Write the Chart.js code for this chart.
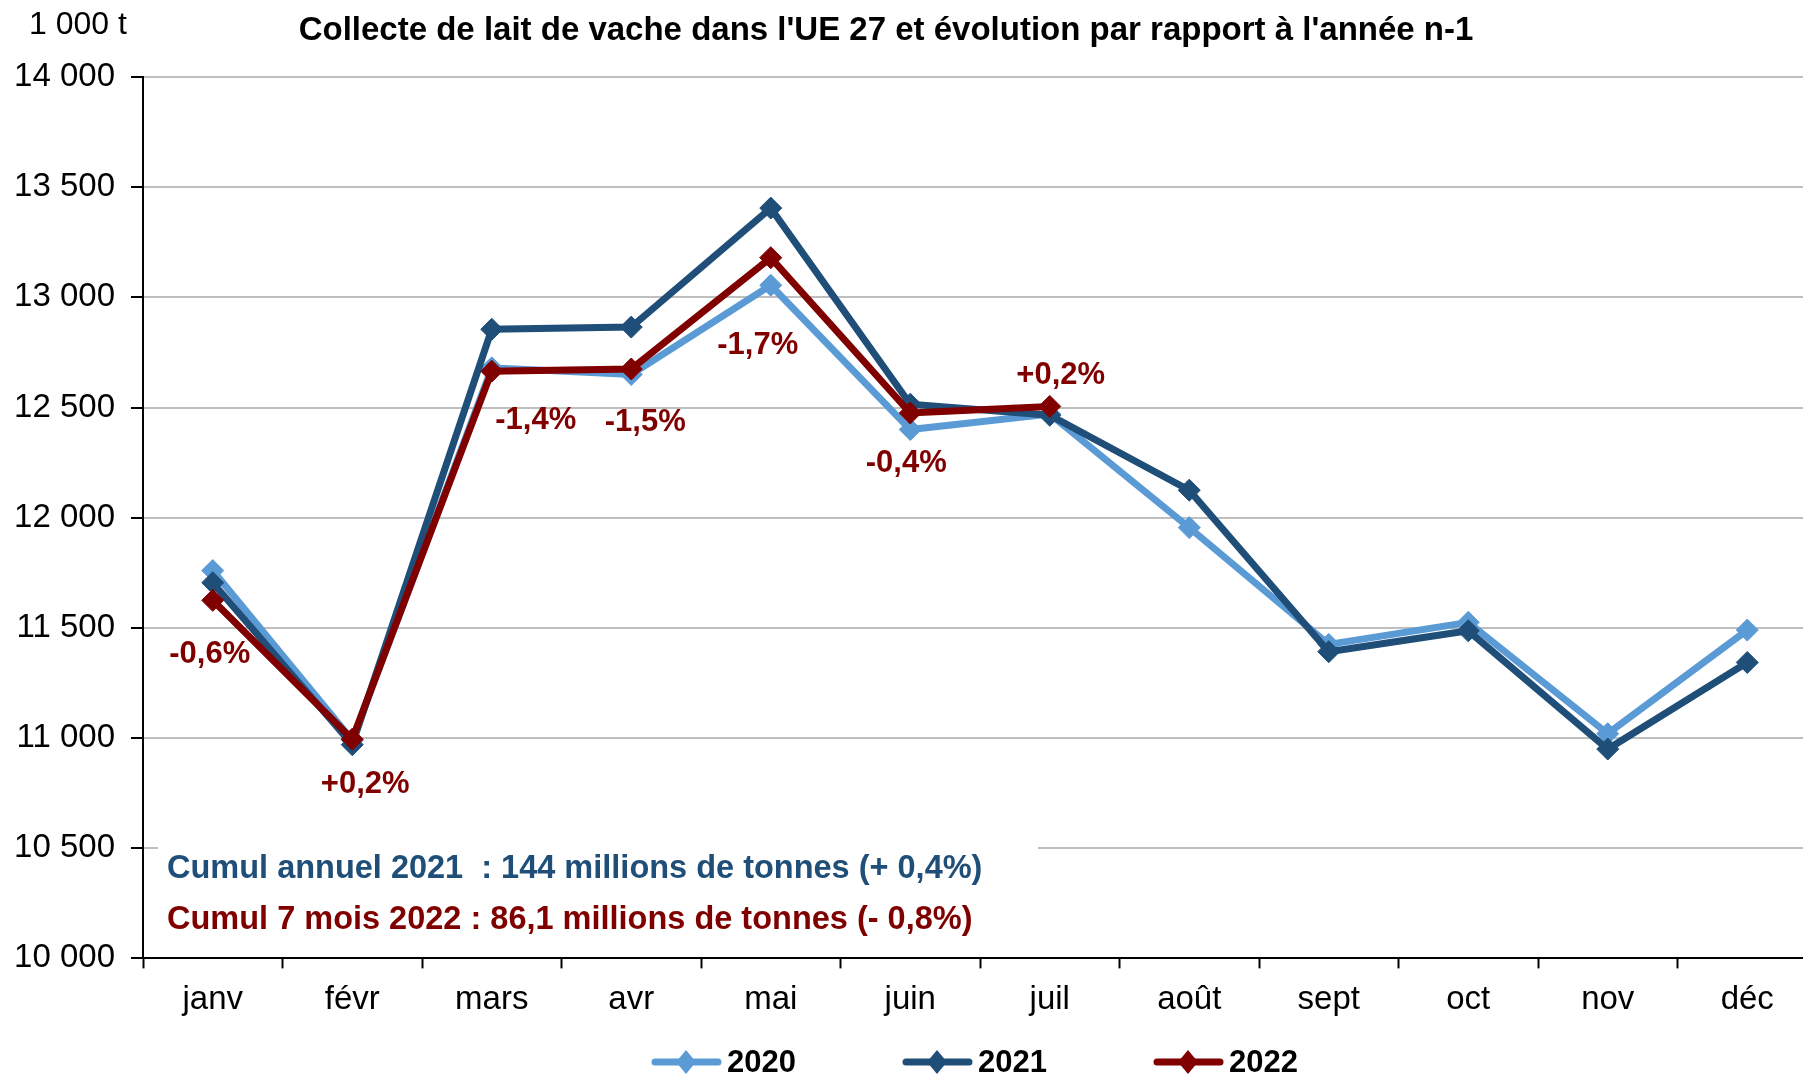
<!DOCTYPE html>
<html>
<head>
<meta charset="utf-8">
<script src="https://cdn.jsdelivr.net/npm/chart.js@4.4.0/dist/chart.umd.min.js"></script>
<style>
  html, body { margin: 0; padding: 0; background: #fff; overflow: hidden; }
  canvas { display: block; }
</style>
</head>
<body>
<canvas id="chart" width="1829" height="1078"></canvas>
<script>
// months on the x axis
const months = ['janv', 'févr', 'mars', 'avr', 'mai', 'juin', 'juil', 'août', 'sept', 'oct', 'nov', 'déc'];
const years = ['2020', '2021', '2022'];

// collecte, 1 000 t
const collecte2020 = [11760, 10990, 12680, 12650, 13055, 12400, 12470, 11955, 11425, 11525, 11020, 11490];
const collecte2021 = [11705, 10970, 12855, 12865, 13405, 12515, 12465, 12125, 11392, 11487, 10950, 11343];
const collecte2022 = [11625, 10995, 12665, 12675, 13180, 12475, 12505, null, null, null, null, null];

// evolution 2022 / 2021
const evolution2022 = ['-0,6%', '+0,2%', '-1,4%', '-1,5%', '-1,7%', '-0,4%', '+0,2%'];

const notes = [
  'Cumul annuel 2021  : 144 millions de tonnes (+ 0,4%)',
  'Cumul 7 mois 2022 : 86,1 millions de tonnes (- 0,8%)'
];

const FONT = '"Liberation Sans", Arial, sans-serif';
const colors = ['#5B9BD5', '#1F4E79', '#800000'];

// label offsets from the 2022 points, in px
const labelOffsets = [[-3, 54], [13, 45], [44, 49], [14, 53], [-13, 88], [-4, 50], [11, -31]];

const fmt = v => String(v).replace(/\B(?=(\d{3})+(?!\d))/g, ' ');

const extras = {
  id: 'extras',
  beforeDatasetsDraw(chart) {
    const ctx = chart.ctx;
    const y = chart.scales.y;
    // white text box over the grid
    ctx.save();
    ctx.fillStyle = '#fff';
    ctx.fillRect(158, y.getPixelForValue(10500) - 4, 880, 108);
    ctx.font = 'bold 32.5px ' + FONT;
    ctx.textBaseline = 'middle';
    ctx.fillStyle = colors[1];
    ctx.fillText(notes[0], 167, 869);
    ctx.fillStyle = colors[2];
    ctx.fillText(notes[1], 167, 920);
    ctx.restore();
  },
  afterDraw(chart) {
    const ctx = chart.ctx;
    ctx.save();
    // title + unit
    ctx.fillStyle = '#000';
    ctx.textBaseline = 'middle';
    ctx.textAlign = 'center';
    ctx.font = 'bold 33px ' + FONT;
    ctx.fillText("Collecte de lait de vache dans l'UE 27 et évolution par rapport à l'année n-1", 886, 31);
    ctx.font = '32px ' + FONT;
    ctx.fillText('1 000 t', 78, 25);

    // evolution labels
    const meta = chart.getDatasetMeta(2);
    ctx.font = 'bold 31px ' + FONT;
    ctx.fillStyle = colors[2];
    evolution2022.forEach((txt, i) => {
      const pt = meta.data[i];
      ctx.fillText(txt, pt.x + labelOffsets[i][0], pt.y + labelOffsets[i][1]);
    });

    // legend
    const ly = 1062;
    years.forEach((yr, i) => {
      const sx = 652 + i * 251;
      ctx.strokeStyle = colors[i];
      ctx.fillStyle = colors[i];
      ctx.lineWidth = 7;
      ctx.lineCap = 'round';
      ctx.beginPath();
      ctx.moveTo(sx + 3, ly);
      ctx.lineTo(sx + 66, ly);
      ctx.stroke();
      ctx.beginPath();
      ctx.moveTo(sx + 34, ly - 12);
      ctx.lineTo(sx + 44, ly);
      ctx.lineTo(sx + 34, ly + 12);
      ctx.lineTo(sx + 24, ly);
      ctx.closePath();
      ctx.fill();
      ctx.fillStyle = '#000';
      ctx.textAlign = 'left';
      ctx.font = 'bold 31px ' + FONT;
      ctx.fillText(yr, sx + 75, ly + 1);
    });
    ctx.restore();
  }
};

const series = [collecte2020, collecte2021, collecte2022];

new Chart(document.getElementById('chart'), {
  type: 'line',
  data: {
    labels: months,
    datasets: series.map((d, i) => ({
      label: years[i],
      data: d,
      borderColor: colors[i],
      backgroundColor: colors[i],
      borderWidth: 7,
      pointStyle: 'rectRot',
      pointRadius: 11,
      pointBorderWidth: 1,
      pointBackgroundColor: colors[i],
      pointBorderColor: colors[i],
      tension: 0,
      spanGaps: false,
      order: 2 - i
    }))
  },
  options: {
    responsive: false,
    animation: false,
    layout: { padding: { top: 77, bottom: 46, left: 0, right: 0 } },
    plugins: {
      legend: { display: false },
      title: { display: false },
      tooltip: { enabled: false }
    },
    scales: {
      x: {
        offset: true,
        grid: {
          offset: true,
          drawOnChartArea: false,
          drawTicks: true,
          tickLength: 10,
          tickColor: '#000',
          tickWidth: 2
        },
        border: { color: '#000', width: 2 },
        ticks: {
          color: '#000',
          font: { family: FONT, size: 33 },
          padding: 12,
          autoSkip: false,
          maxRotation: 0
        }
      },
      y: {
        min: 10000,
        max: 14000,
        afterFit(scale) { scale.width = 143; },
        grid: {
          color: '#BFBFBF',
          lineWidth: 2,
          tickLength: 12,
          tickColor: '#000',
          tickWidth: 2
        },
        border: { color: '#000', width: 2 },
        ticks: {
          stepSize: 500,
          color: '#000',
          padding: 16,
          font: { family: FONT, size: 33 },
          callback: v => fmt(v)
        }
      }
    }
  },
  plugins: [extras]
});
</script>
</body>
</html>
